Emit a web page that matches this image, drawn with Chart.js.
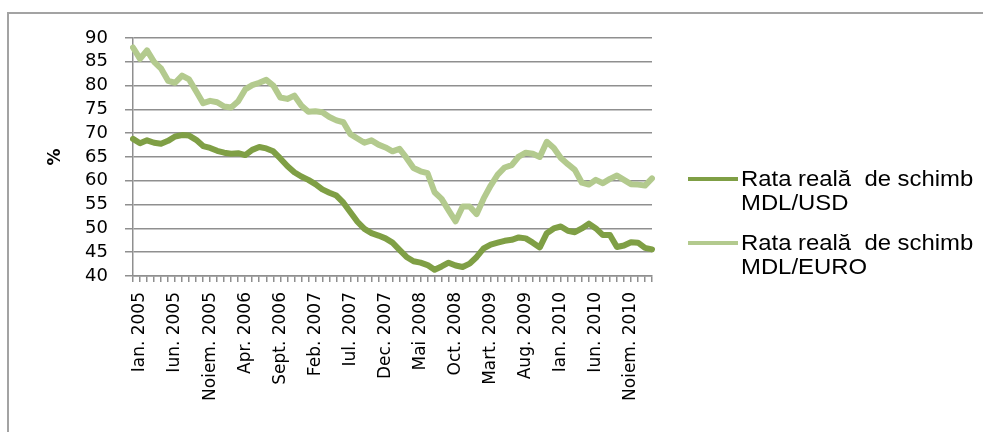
<!DOCTYPE html>
<html>
<head>
    <meta charset="utf-8">
    <title>Rata reală de schimb</title>
    <script src="https://cdn.jsdelivr.net/npm/chart.js"></script>
    <style>
        body {
            margin: 0;
            background: #ffffff;
        }

        .frame {
            position: absolute;
            left: 7px;
            top: 12px;
            width: 1000px;
            height: 500px;
            border: 2px solid #a3a3a3;
        }

        .chart-box {
            position: absolute;
            left: 0;
            top: 0;
            width: 983px;
            height: 432px;
        }

        .legend {
            position: absolute;
            left: 688px;
            top: 0;
            font-family: 'Liberation Sans', Arial, sans-serif;
            font-size: 22px;
            color: #000;
        }

        .legend-item {
            position: absolute;
            left: 0;
        }

        .legend-item .swatch {
            position: absolute;
            left: 0;
            width: 50px;
            height: 4px;
        }

        .legend-item .text {
            position: absolute;
            left: 53px;
            top: 0;
            line-height: 24px;
            white-space: pre;
            transform: scaleX(1.085);
            transform-origin: 0 0;
        }
    </style>
</head>
<body>
    <div class="frame"></div>
    <div class="chart-box">
        <canvas id="rate-chart"></canvas>
    </div>
    <div class="legend" id="legend"></div>

    <script>
        // months shown on the category axis (Ian. 2005 .. Mart. 2011)
        const months = ['Ian.', 'Feb.', 'Mart.', 'Apr.', 'Mai', 'Iun.', 'Iul.', 'Aug.', 'Sept.', 'Oct.', 'Noiem.', 'Dec.'];
        const years = [2005, 2006, 2007, 2008, 2009, 2010, 2011];
        const monthCount = 75;

        const seriesNames = [
            ['Rata reală  de schimb', 'MDL/USD'],
            ['Rata reală  de schimb', 'MDL/EURO']
        ];

        const usd = [
            68.8, 67.9, 68.5, 68.0, 67.8, 68.4, 69.3, 69.6, 69.5, 68.6,
            67.3, 66.9, 66.3, 65.9, 65.7, 65.8, 65.4, 66.5, 67.1, 66.8,
            66.2, 64.7, 63.1, 61.8, 60.9, 60.2, 59.3, 58.2, 57.5, 56.9,
            55.4, 53.4, 51.4, 49.9, 49.0, 48.5, 47.9, 47.0, 45.5, 44.0,
            43.1, 42.8, 42.3, 41.3, 42.0, 42.8, 42.2, 41.9, 42.6, 44.0,
            45.8, 46.6, 47.0, 47.4, 47.6, 48.1, 47.9, 47.0, 46.0, 49.0,
            50.0, 50.4, 49.5, 49.2, 50.0, 51.0, 50.0, 48.6, 48.6, 46.1,
            46.4, 47.1, 47.0, 45.9, 45.6
        ];

        const euro = [
            88.0, 85.6, 87.4, 85.0, 83.6, 81.0, 80.6, 82.1, 81.3, 78.8,
            76.3, 76.8, 76.5, 75.6, 75.4, 76.7, 79.2, 80.1, 80.6, 81.2,
            80.0, 77.5, 77.2, 77.9, 75.8, 74.5, 74.6, 74.4, 73.4, 72.7,
            72.3, 69.8, 68.9, 68.0, 68.5, 67.6, 67.0, 66.2, 66.7, 64.8,
            62.7, 62.0, 61.6, 57.6, 56.2, 53.8, 51.5, 54.6, 54.6, 53.0,
            56.3, 59.0, 61.3, 62.8, 63.3, 65.1, 65.9, 65.7, 65.0, 68.2,
            66.9, 64.8, 63.5, 62.3, 59.6, 59.2, 60.2, 59.5, 60.4, 61.1,
            60.2, 59.3, 59.2, 59.0, 60.5
        ];

        const labels = [];
        for (const y of years) {
            for (const m of months) {
                if (labels.length < monthCount) labels.push(m + ' ' + y);
            }
        }

        const colors = ['#7f9f45', '#b3ca8e'];
        const gridColor = '#8f8f8f';

        const ctx = document.getElementById('rate-chart').getContext('2d');
        const rateChart = new Chart(ctx, {
            type: 'line',
            data: {
                labels: labels,
                datasets: [{
                    label: seriesNames[0].join(' '),
                    data: usd,
                    borderColor: colors[0],
                    borderWidth: 6,
                    pointRadius: 0,
                    tension: 0,
                    borderJoinStyle: 'round',
                    borderCapStyle: 'round',
                    fill: false
                }, {
                    label: seriesNames[1].join(' '),
                    data: euro,
                    borderColor: colors[1],
                    borderWidth: 6,
                    pointRadius: 0,
                    tension: 0,
                    borderJoinStyle: 'round',
                    borderCapStyle: 'round',
                    fill: false
                }]
            },
            options: {
                responsive: true,
                maintainAspectRatio: false,
                animation: false,
                layout: {
                    padding: { top: 38, right: 331, left: 0, bottom: 0 }
                },
                plugins: {
                    legend: { display: false },
                    tooltip: { enabled: false }
                },
                scales: {
                    x: {
                        offset: false,
                        grid: {
                            display: true,
                            drawOnChartArea: false,
                            drawTicks: true,
                            tickLength: 6,
                            color: gridColor,
                            lineWidth: 1.5
                        },
                        border: { display: true, color: gridColor, width: 1.5 },
                        ticks: {
                            autoSkip: false,
                            maxRotation: 90,
                            minRotation: 90,
                            padding: 10,
                            labelOffset: 7,
                            color: '#000',
                            font: { family: 'DejaVu Sans', size: 17 },
                            callback: function (value, index) {
                                return index % 5 === 0 ? labels[index] : '';
                            }
                        },
                        afterFit: function (scale) {
                            scale.height = 156;
                        }
                    },
                    y: {
                        min: 40,
                        max: 90,
                        grid: {
                            color: gridColor,
                            lineWidth: 1.5,
                            tickLength: 8
                        },
                        border: { display: true, color: gridColor, width: 1.5 },
                        ticks: {
                            stepSize: 5,
                            autoSkip: false,
                            padding: 17,
                            color: '#000',
                            font: { family: 'DejaVu Sans', size: 18 }
                        },
                        title: {
                            display: true,
                            text: '%',
                            color: '#000',
                            font: { family: 'DejaVu Sans', size: 17, weight: 'bold' },
                            padding: { top: 45, bottom: 0 }
                        },
                        afterFit: function (scale) {
                            scale.width = 133;
                        }
                    }
                }
            }
        });

        // legend built from the dataset names and colours
        const legendTops = [167, 231];
        const legendEl = document.getElementById('legend');
        seriesNames.forEach((lines, i) => {
            const item = document.createElement('div');
            item.className = 'legend-item';
            item.style.top = legendTops[i] + 'px';
            const swatch = document.createElement('div');
            swatch.className = 'swatch';
            swatch.style.background = colors[i];
            swatch.style.top = '10px';
            const text = document.createElement('div');
            text.className = 'text';
            text.textContent = lines.join('\n');
            item.appendChild(swatch);
            item.appendChild(text);
            legendEl.appendChild(item);
        });
    </script>
</body>
</html>
